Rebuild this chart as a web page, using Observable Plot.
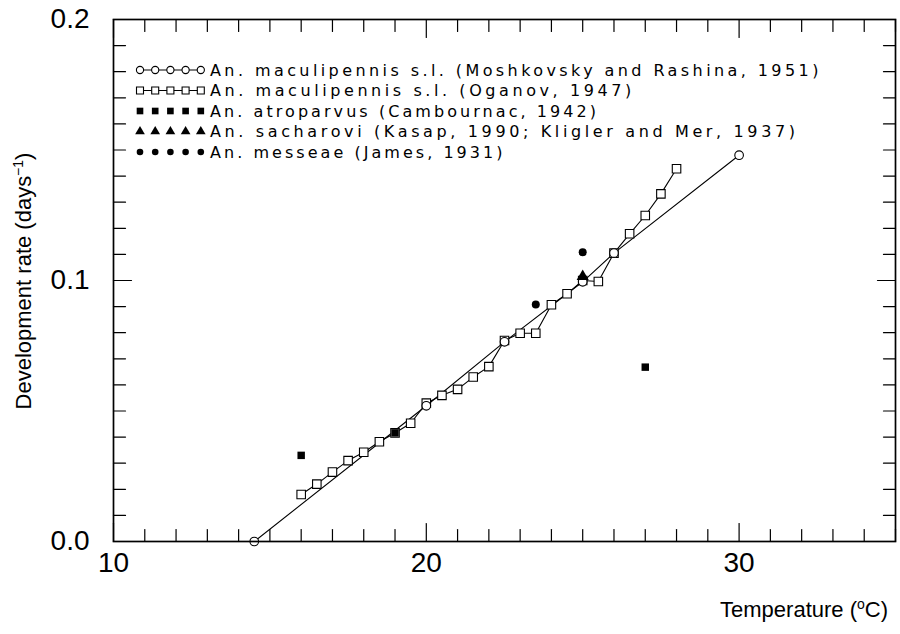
<!DOCTYPE html>
<html><head><meta charset="utf-8">
<script src="https://cdn.jsdelivr.net/npm/d3@7"></script>
<script src="https://cdn.jsdelivr.net/npm/@observablehq/plot@0.6"></script>
<style>body{margin:0;background:#fff}#chart{width:900px;height:634px}</style>
</head><body><div id="chart"></div>
<script>
// Data
const moshTemp = [14.5, 20, 22.5, 25, 26, 30];
const moshRate = [0, 0.052, 0.0765, 0.0995, 0.1105, 0.148];
const oganovTemp = [16, 16.5, 17, 17.5, 18, 18.5, 19, 19.5, 20, 20.5, 21, 21.5, 22, 22.5, 23, 23.5, 24, 24.5, 25, 25.5, 26, 26.5, 27, 27.5, 28];
const oganovRate = [0.018, 0.022, 0.0266, 0.031, 0.0342, 0.0382, 0.0416, 0.0453, 0.053, 0.056, 0.0583, 0.063, 0.067, 0.077, 0.0798, 0.0798, 0.0907, 0.0949, 0.100, 0.0996, 0.1105, 0.1179, 0.1249, 0.1332, 0.1428];
const atroTemp = [16, 19, 27];
const atroRate = [0.033, 0.0416, 0.0668];
const sachTemp = [25];
const sachRate = [0.1015];
const messTemp = [23.5, 25];
const messRate = [0.0908, 0.1108];
const xTickLabels = [10, 20, 30];
const yTickLabels = [0, 0.1, 0.2];
const legendLabels = [
  "An. maculipennis s.l. (Moshkovsky and Rashina, 1951)",
  "An. maculipennis s.l. (Oganov, 1947)",
  "An. atroparvus (Cambournac, 1942)",
  "An. sacharovi (Kasap, 1990; Kligler and Mer, 1937)",
  "An. messeae (James, 1931)"
];

const zip = (xs, ys) => xs.map((x, i) => ({x, y: ys[i]}));
const mosh = zip(moshTemp, moshRate);
const oganov = zip(oganovTemp, oganovRate);
const atro = zip(atroTemp, atroRate);
const sach = zip(sachTemp, sachRate);
const mess = zip(messTemp, messRate);

const xMinor = d3.range(10, 36, 1);
const yMinor = d3.range(0, 21, 1).map(d => d / 100);
const tickShape = {draw(c, l) { c.moveTo(0, 0); c.lineTo(0, -l); }};
const isMajX = d => d % 10 === 0;
const isMajY = d => Math.abs(d * 10 - Math.round(d * 10)) < 1e-9;

function ticks() {
  const o = {shape: tickShape, anchor: "start", stroke: "black", strokeWidth: 1.2};
  return [
    Plot.vectorX(xMinor, {...o, x: d => d, frameAnchor: "bottom", rotate: 0, length: d => isMajX(d) ? 15 : 10}),
    Plot.vectorX(xMinor, {...o, x: d => d, frameAnchor: "top", rotate: 180, length: d => isMajX(d) ? 15 : 10}),
    Plot.vectorY(yMinor, {...o, y: d => d, frameAnchor: "left", rotate: 90, length: d => isMajY(d) ? 15 : 10}),
    Plot.vectorY(yMinor, {...o, y: d => d, frameAnchor: "right", rotate: -90, length: d => isMajY(d) ? 15 : 10})
  ];
}

const plot = Plot.plot({
  width: 900, height: 634,
  marginLeft: 113, marginRight: 5, marginTop: 19, marginBottom: 93,
  x: {domain: [10, 35]},
  y: {domain: [0, 0.2]},
  style: {fontFamily: "'Liberation Sans', Arial, sans-serif", background: "white", color: "black", overflow: "visible"},
  marks: [
    ...ticks(),
    Plot.axisX({ticks: xTickLabels, tickSize: 0, tickPadding: 11, fontSize: 28, label: null, tickFormat: d => String(d)}),
    Plot.axisY({ticks: yTickLabels, tickSize: 0, tickPadding: 24, fontSize: 28, label: null, tickFormat: d3.format(".1f")}),
    Plot.line(mosh, {x: "x", y: "y", stroke: "black", strokeWidth: 1.1}),
    Plot.line(oganov, {x: "x", y: "y", stroke: "black", strokeWidth: 1.1}),
    Plot.dot(oganov, {x: "x", y: "y", symbol: "square", r: 4.8, stroke: "black", fill: "white", strokeWidth: 1.1}),
    Plot.dot(mosh, {x: "x", y: "y", symbol: "circle", r: 4.3, stroke: "black", fill: "white", strokeWidth: 1.1}),
    Plot.dot(atro, {x: "x", y: "y", symbol: "square", r: 4.2, fill: "black", stroke: "none"}),
    Plot.dot(sach, {x: "x", y: "y", symbol: "triangle", r: 4.5, fill: "black", stroke: "none"}),
    Plot.dot(mess, {x: "x", y: "y", symbol: "circle", r: 4, fill: "black", stroke: "none"}),
    Plot.frame({stroke: "black", strokeWidth: 1.7})
  ]
});
document.getElementById("chart").appendChild(plot);

// Axis titles and legend
const svg = d3.select(plot);
const yt = svg.append("text")
  .attr("transform", "translate(31,281) rotate(-90)")
  .attr("text-anchor", "middle")
  .attr("font-family", "'Liberation Sans', Arial, sans-serif")
  .attr("font-size", 22)
  .attr("fill", "black");
yt.append("tspan").text("Development rate (days");
yt.append("tspan").attr("dy", -8).attr("font-size", 14).text("−1");
yt.append("tspan").attr("dy", 8).text(")");

const xt = svg.append("text")
  .attr("x", 888).attr("y", 617)
  .attr("text-anchor", "end")
  .attr("font-family", "'Liberation Sans', Arial, sans-serif")
  .attr("font-size", 22)
  .attr("fill", "black");
xt.append("tspan").text("Temperature (");
xt.append("tspan").attr("dy", -8).attr("font-size", 14).text("o");
xt.append("tspan").attr("dy", 8).text("C)");

const legendStyles = [
  {sym: d3.symbolCircle, size: Math.PI * 3.6 * 3.6, fill: "white", stroke: "black", line: true},
  {sym: d3.symbolSquare, size: 49, fill: "white", stroke: "black", line: true},
  {sym: d3.symbolSquare, size: 44, fill: "black", stroke: "none", line: false},
  {sym: d3.symbolTriangle, size: Math.PI * 3.6 * 3.6, fill: "black", stroke: "none", line: false},
  {sym: d3.symbolCircle, size: Math.PI * 3.3 * 3.3, fill: "black", stroke: "none", line: false}
];
const lg = svg.append("g");
legendLabels.forEach((label, i) => {
  const y = 70 + i * 20.5;
  const st = legendStyles[i];
  const xs = d3.range(5).map(k => 140 + k * 15.2);
  if (st.line) lg.append("line").attr("x1", xs[0]).attr("x2", xs[4]).attr("y1", y).attr("y2", y).attr("stroke", "black").attr("stroke-width", 1);
  xs.forEach(x => lg.append("path").attr("d", d3.symbol(st.sym, st.size)()).attr("transform", `translate(${x},${y})`)
    .attr("fill", st.fill).attr("stroke", st.stroke).attr("stroke-width", 1.1));
  lg.append("text").attr("x", 210).attr("y", y).attr("dy", "0.36em")
    .attr("text-anchor", "start")
    .attr("font-family", "'DejaVu Sans', sans-serif").attr("font-size", 16)
    .attr("textLength", label.length * 11.7).attr("lengthAdjust", "spacing")
    .attr("fill", "black").text(label);
});
</script></body></html>
